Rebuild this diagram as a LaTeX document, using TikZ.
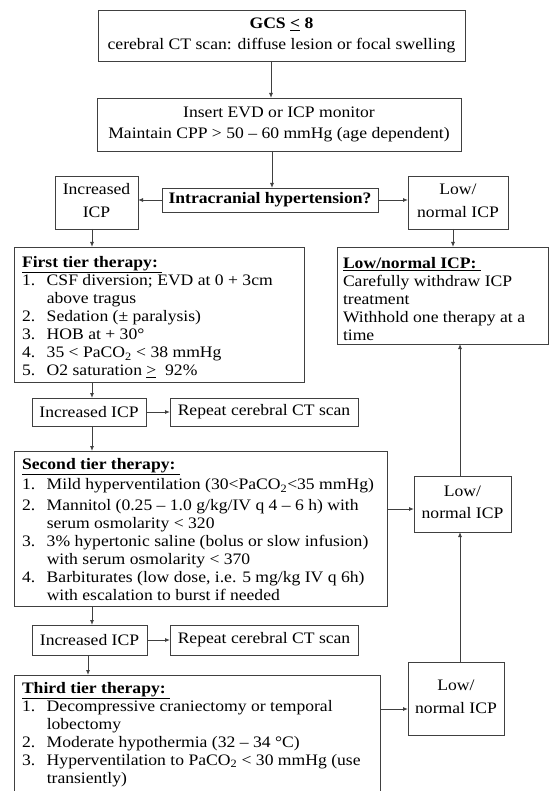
\documentclass[tikz,border=0pt]{standalone}
\usepackage{fontspec}
\setmainfont{Liberation Serif}
\usepackage{graphicx}
\usetikzlibrary{arrows.meta}
\definecolor{ln}{gray}{0.25}
\newcommand\sx[1]{\scalebox{1.1}[1]{#1}}
\newcommand\nm[1]{\makebox[22.5pt][l]{#1}}
\newcommand\hd[1]{\multicolumn{2}{@{}l@{}}{\textbf{\underline{#1}}}}
\begin{document}
\begin{tikzpicture}[x=1pt,y=-1pt,
  every node/.style={font=\fontsize{16}{18}\selectfont, inner sep=0pt, outer sep=0pt},
  bx/.style 2 args={draw=ln, line width=0.9pt, anchor=north west, minimum width=#1pt, minimum height=#2pt},
  txt/.style={anchor=north west},
  arr/.style={draw=ln, line width=0.9pt, -{Latex[length=5pt,width=4pt]}}]
\useasboundingbox (0,0) rectangle (555,791);
\clip (0,0) rectangle (555,791);
\fill[white] (0,0) rectangle (555,791);
% helper coordinates
\coordinate (ax1) at (271,0);
\coordinate (ax2) at (272,0);
\coordinate (ax3) at (92,0);
\coordinate (ax4) at (453,0);
\coordinate (ax5) at (88,0);
\coordinate (ax6) at (460,0);
\coordinate (ay1) at (0,509);
\coordinate (ay2) at (0,709);
% boxes
\node[bx={367}{51}] (gcs) at (98,10) {\sx{\begin{tabular}{@{}c@{}}\textbf{GCS \underline{<} 8}\\[3pt] cerebral CT scan: diffuse lesion or focal swelling\end{tabular}}};
\node[bx={364}{53}] (mon) at (97,98) {\sx{\begin{tabular}{@{}c@{}}Insert EVD or ICP monitor\\[3pt] Maintain CPP > 50 – 60 mmHg (age dependent)\end{tabular}}};
\node[bx={83}{53}] (inc1) at (55,176) {\sx{\begin{tabular}{@{}c@{}}Increased\\[4.5pt] ICP\end{tabular}}};
\node[bx={216}{24}] (ich) at (162,188) {\sx{\textbf{Intracranial hypertension?}}};
\node[bx={100}{53}] (low1) at (408,176) {\sx{\begin{tabular}{@{}c@{}}Low/\\[4.5pt] normal ICP\end{tabular}}};
\node[bx={290}{135}] (t1) at (14,247) {};
\node[txt] (t1t) at (22,255) {\sx{\begin{tabular}{@{}l@{}l@{}}\hd{First tier therapy:\ }\\
\nm{1.}&CSF diversion; EVD at 0 + 3cm\\
&above tragus\\
\nm{2.}&Sedation (± paralysis)\\
\nm{3.}&HOB at + 30°\\
\nm{4.}&35 < PaCO\textsubscript{2} < 38 mmHg\\
\nm{5.}&O2 saturation \underline{>}\ \ 92\%\end{tabular}}};
\node[bx={211}{97}] (lowbig) at (337,247) {};
\node[txt] (lowbigt) at (343,255.5) {\sx{\begin{tabular}{@{}l@{}}\textbf{\underline{Low/normal ICP:\ }}\\
Carefully withdraw ICP\\
treatment\\
Withhold one therapy at a\\
time\end{tabular}}};
\node[bx={114}{28}] (inc2) at (32,398) {\sx{Increased ICP}};
\node[bx={188}{28}] (rep2) at (170,398) {\sx{Repeat cerebral CT scan}};
\node[bx={373}{155}] (t2) at (14,451) {};
\node[txt] (t2t) at (22,457) {\sx{\begin{tabular}{@{}l@{}l@{}}\hd{Second tier therapy:\ }\\[2pt]
\nm{1.}&Mild hyperventilation (30<PaCO\textsubscript{2}<35 mmHg)\\[3pt]
\nm{2.}&Mannitol (0.25 – 1.0 g/kg/IV q 4 – 6 h) with\\
&serum osmolarity < 320\\
\nm{3.}&3\% hypertonic saline (bolus or slow infusion)\\
&with serum osmolarity < 370\\
\nm{4.}&Barbiturates (low dose, i.e. 5 mg/kg IV q 6h)\\
&with escalation to burst if needed\end{tabular}}};
\node[bx={97}{56}] (low2) at (414,476) {\sx{\begin{tabular}{@{}c@{}}Low/\\[4.5pt] normal ICP\end{tabular}}};
\node[bx={115}{30}] (inc3) at (32,625) {\sx{Increased ICP}};
\node[bx={188}{30}] (rep3) at (170,625) {\sx{Repeat cerebral CT scan}};
\node[bx={366}{200}] (t3) at (14,675) {};
\node[txt] (t3t) at (22,680.5) {\sx{\begin{tabular}{@{}l@{}l@{}}\hd{Third tier therapy:\ }\\
\nm{1.}&Decompressive craniectomy or temporal\\
&lobectomy\\
\nm{2.}&Moderate hypothermia (32 – 34 °C)\\
\nm{3.}&Hyperventilation to PaCO\textsubscript{2} < 30 mmHg (use\\
&transiently)\end{tabular}}};
\node[bx={96}{73}] (low3) at (408,662) {\sx{\begin{tabular}{@{}c@{}}Low/\\[4.5pt] normal ICP\end{tabular}}};
% connectors
\draw[arr] (gcs.south -| ax1) -- (mon.north -| ax1);
\draw[arr] (mon.south -| ax2) -- (ich.north -| ax2);
\draw[arr] (ich.west) -- (ich.west -| inc1.east);
\draw[arr] (ich.east) -- (ich.east -| low1.west);
\draw[arr] (inc1.south -| ax3) -- (t1.north -| ax3);
\draw[arr] (low1.south -| ax4) -- (lowbig.north -| ax4);
\draw[arr] (t1.south -| ax3) -- (inc2.north -| ax3);
\draw[arr] (inc2.east) -- (rep2.west);
\draw[arr] (inc2.south -| ax3) -- (t2.north -| ax3);
\draw[arr] (t2.east |- ay1) -- (low2.west |- ay1);
\draw[arr] (low2.north -| ax6) -- (lowbig.south -| ax6);
\draw[arr] (t2.south -| ax3) -- (inc3.north -| ax3);
\draw[arr] (inc3.east) -- (rep3.west);
\draw[arr] (inc3.south -| ax5) -- (t3.north -| ax5);
\draw[arr] (t3.east |- ay2) -- (low3.west |- ay2);
\draw[arr] (low3.north -| ax6) -- (low2.south -| ax6);
\end{tikzpicture}
\end{document}
